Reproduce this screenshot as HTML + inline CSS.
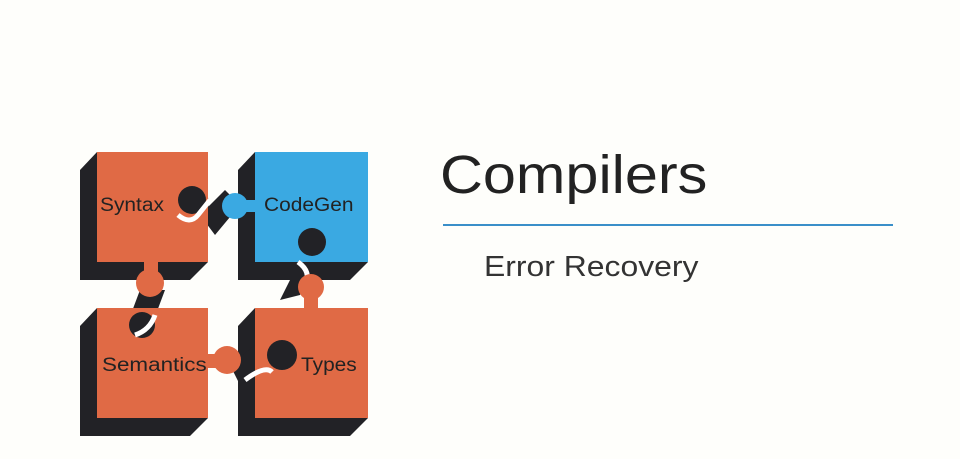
<!DOCTYPE html>
<html><head><style>
body{margin:0;width:960px;height:459px;background:#fefefb;overflow:hidden;position:relative;font-family:"Liberation Sans",sans-serif}
.t{position:absolute;color:#222;white-space:nowrap;transform-origin:left top}
</style></head><body>
<svg width="960" height="459" style="position:absolute;left:0;top:0">
<g fill="#222226">
<polygon points="97,152 208,152 208,262 190,280 80,280 80,170"/>
<polygon points="255,152 368,152 368,262 350,280 238,280 238,170"/>
<polygon points="97,308 208,308 208,418 190,436 80,436 80,326"/>
<polygon points="255,308 368,308 368,418 350,436 238,436 238,326"/>
<circle cx="195" cy="203" r="14"/>
<circle cx="310" cy="245" r="15"/>
<circle cx="150" cy="325" r="15"/>
<circle cx="280" cy="360" r="15"/>
<polygon points="200,215 225,190 240,205 215,235"/>
<polygon points="300,260 320,255 300,295 280,300"/>
<polygon points="140,290 165,290 150,330 125,330"/>
<polygon points="230,365 255,345 265,370 240,385"/>
</g>
<rect x="97" y="152" width="111" height="110" fill="#e06a45"/>
<rect x="255" y="152" width="113" height="110" fill="#3aa9e2"/>
<rect x="97" y="308" width="111" height="110" fill="#e06a45"/>
<rect x="255" y="308" width="113" height="110" fill="#e06a45"/>
<circle cx="192" cy="200" r="14" fill="#222226"/>
<circle cx="312" cy="242" r="14" fill="#222226"/>
<circle cx="142" cy="325" r="13" fill="#222226"/>
<circle cx="282" cy="355" r="15" fill="#222226"/>
<path d="M178 215 Q190 225 198 215 L210 200" stroke="#fff" stroke-width="5" fill="none"/>
<path d="M298 262 Q312 272 305 285" stroke="#fff" stroke-width="5" fill="none"/>
<path d="M135 335 Q150 330 155 315" stroke="#fff" stroke-width="5" fill="none"/>
<path d="M245 380 Q265 365 272 372" stroke="#fff" stroke-width="5" fill="none"/>
<rect x="244" y="200" width="14" height="12" fill="#3aa9e2"/>
<circle cx="235" cy="206" r="13" fill="#3aa9e2"/>
<rect x="144" y="262" width="14" height="12" fill="#e06a45"/>
<circle cx="150" cy="283" r="14" fill="#e06a45"/>
<rect x="304" y="294" width="14" height="16" fill="#e06a45"/>
<circle cx="311" cy="287" r="13" fill="#e06a45"/>
<rect x="206" y="354" width="14" height="14" fill="#e06a45"/>
<circle cx="227" cy="360" r="14" fill="#e06a45"/>
<line x1="443" y1="225" x2="893" y2="225" stroke="#3a8fc9" stroke-width="2"/>
</svg>
<div class="t" style="left:100px;top:195px;font-size:19px;transform:scaleX(1.1)">Syntax</div>
<div class="t" style="left:264px;top:195px;font-size:19px;transform:scaleX(1.1)">CodeGen</div>
<div class="t" style="left:102px;top:355px;font-size:19px;transform:scaleX(1.18)">Semantics</div>
<div class="t" style="left:301px;top:355px;font-size:19px;transform:scaleX(1.1)">Types</div>
<div class="t" style="left:440px;top:144px;font-size:54px;transform:scaleX(1.1)">Compilers</div>
<div class="t" style="left:484px;top:251px;font-size:29px;color:#333;transform:scaleX(1.1)">Error Recovery</div>
</body></html>
